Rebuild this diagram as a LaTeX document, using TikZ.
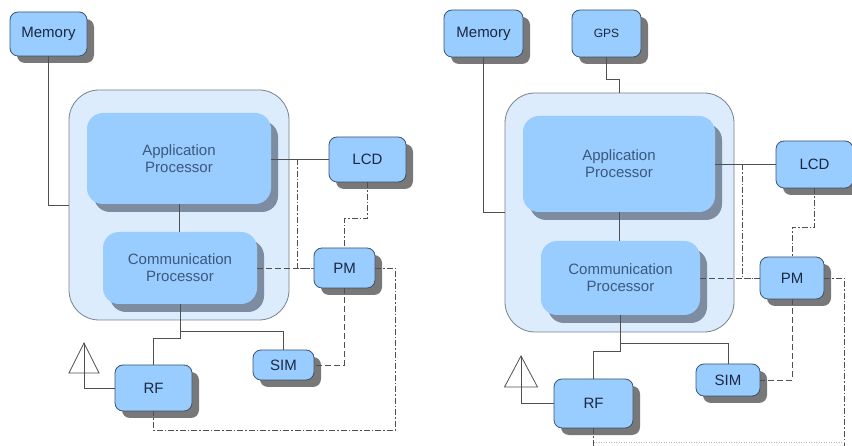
\documentclass[tikz,border=0pt]{standalone}
\usepackage{fontspec}
\setmainfont{Liberation Sans}
\usetikzlibrary{shadows}
\definecolor{boxfill}{RGB}{153,204,255}
\definecolor{outerfill}{RGB}{220,236,252}
\definecolor{boxline}{RGB}{60,84,110}
\definecolor{outerline}{RGB}{120,130,140}
\definecolor{shadowgray}{RGB}{120,120,120}
\definecolor{shadowblue}{RGB}{125,140,160}
\definecolor{txtdark}{RGB}{28,40,64}
\definecolor{txtsoft}{RGB}{60,88,125}
\definecolor{wire}{RGB}{80,80,80}
\tikzset{
  blk/.style={draw=boxline,fill=boxfill,line width=0.8pt,rounded corners=8pt,inner sep=0pt,
    text=txtdark,font=\fontsize{15}{17}\selectfont,
    drop shadow={shadow xshift=7pt,shadow yshift=-7pt,fill=shadowgray,opacity=1}},
  proc/.style={fill=boxfill,rounded corners=16pt,inner sep=0pt,align=center,
    text=txtsoft,font=\fontsize{15}{17}\selectfont,
    drop shadow={shadow xshift=7pt,shadow yshift=-8pt,fill=shadowblue,opacity=1}},
  chip/.style={draw=outerline,fill=outerfill,line width=0.8pt,rounded corners=30pt,inner sep=0pt},
  wr/.style={draw=wire,line width=0.8pt},
  dline/.style={draw=wire,line width=0.8pt,dash pattern=on 6pt off 3pt},
  ddline/.style={draw=wire,line width=0.8pt,dash pattern=on 6pt off 2pt on 1.5pt off 2pt},
  faint/.style={draw=wire!40,line width=0.8pt,dash pattern=on 1pt off 1.5pt}
}
\begin{document}
\begin{tikzpicture}[x=1pt,y=-1pt]
\useasboundingbox[fill=white] (0,0) rectangle (852,446);
% left: without GPS
\node[chip,minimum width=220pt,minimum height=230pt] (outer1) at (179,205) {};
\node[proc,minimum width=184pt,minimum height=91pt] (app1) at (179,158.5) {Application\\Processor};
\node[proc,minimum width=154pt,minimum height=72pt] (comm1) at (180,268) {Communication\\Processor};
\node[blk,minimum width=77pt,minimum height=44pt] (mem1) at (48.5,34) {Memory};
\node[blk,minimum width=77pt,minimum height=45pt] (lcd1) at (367.5,159.5) {LCD};
\node[blk,minimum width=61pt,minimum height=40pt] (pm1) at (344.5,268) {PM};
\node[blk,minimum width=61pt,minimum height=30pt] (sim1) at (283.5,365) {SIM};
\node[blk,minimum width=77pt,minimum height=46pt] (rf1) at (153.5,388) {RF};
\coordinate (ant1) at (84,343);
\coordinate (j1) at (297,159.5);
\coordinate (cs1) at (180,331);
\coordinate (cr1) at (180,338);
\coordinate (pr1) at (395,430);
\draw[wr] (mem1.south) |- (outer1.west);
\draw[wr] (app1.south) -- (app1.south |- comm1.north);
\draw[wr] (app1.east |- lcd1.west) -- (lcd1.west);
\draw[wr] (comm1.south) -- (cr1) -| (rf1.north);
\draw[wr] (cs1) -| (sim1.north);
\draw[wr] (ant1) -- ++(-15,30) -- ++(30,0) -- cycle;
\draw[wr] (ant1) |- (rf1.west);
\draw[ddline] (j1) |- (pm1.west);
\draw[dline] (comm1.east) -- (pm1.west);
\draw[ddline] (lcd1.south) -- ++(0,36) -| (pm1.north);
\draw[dline] (pm1.south) |- (sim1.east);
\draw[ddline] (pm1.east) -| (pr1) -| (rf1.south);
% right: with GPS
\node[chip,minimum width=229pt,minimum height=239pt] (outer2) at (619.5,212.5) {};
\node[proc,minimum width=192pt,minimum height=96pt] (app2) at (619,164) {Application\\Processor};
\node[proc,minimum width=159pt,minimum height=74pt] (comm2) at (620.5,278) {Communication\\Processor};
\node[blk,minimum width=79pt,minimum height=47pt] (mem2) at (483.5,33.5) {Memory};
\node[blk,minimum width=69pt,minimum height=47pt,font=\fontsize{12}{14}\selectfont] (gps2) at (606.5,33.5) {GPS};
\node[blk,minimum width=77pt,minimum height=47pt] (lcd2) at (814.5,164.5) {LCD};
\node[blk,minimum width=64pt,minimum height=42pt] (pm2) at (792,278) {PM};
\node[blk,minimum width=64pt,minimum height=32pt] (sim2) at (728,380) {SIM};
\node[blk,minimum width=79pt,minimum height=49pt] (rf2) at (593.5,403.5) {RF};
\coordinate (ant2) at (521,356);
\coordinate (gb2) at (606.5,79);
\coordinate (j2) at (742,164.5);
\coordinate (cs2) at (620.5,343);
\coordinate (cr2) at (620.5,351);
\coordinate (pr2) at (844,442);
\draw[wr] (mem2.south) |- (outer2.west);
\draw[wr] (gps2.south) -- (gb2) -| (outer2.north);
\draw[wr] (app2.south) -- (app2.south |- comm2.north);
\draw[wr] (app2.east |- lcd2.west) -- (lcd2.west);
\draw[wr] (comm2.south) -- (cr2) -| (rf2.north);
\draw[wr] (cs2) -| (sim2.north);
\draw[wr] (ant2) -- ++(-16.5,31) -- ++(33,0) -- cycle;
\draw[wr] (ant2) |- (rf2.west);
\draw[ddline] (j2) |- (pm2.west);
\draw[dline] (comm2.east) -- (pm2.west);
\draw[ddline] (lcd2.south) -- ++(0,39) -| (pm2.north);
\draw[dline] (pm2.south) |- (sim2.east);
\draw[ddline] (pm2.east) -| (pr2) -- ++(0,6);
\draw[ddline] (rf2.south) -- ++(0,20);
\draw[faint] (rf2.south |- pr2) -- (pr2);
\end{tikzpicture}
\end{document}
